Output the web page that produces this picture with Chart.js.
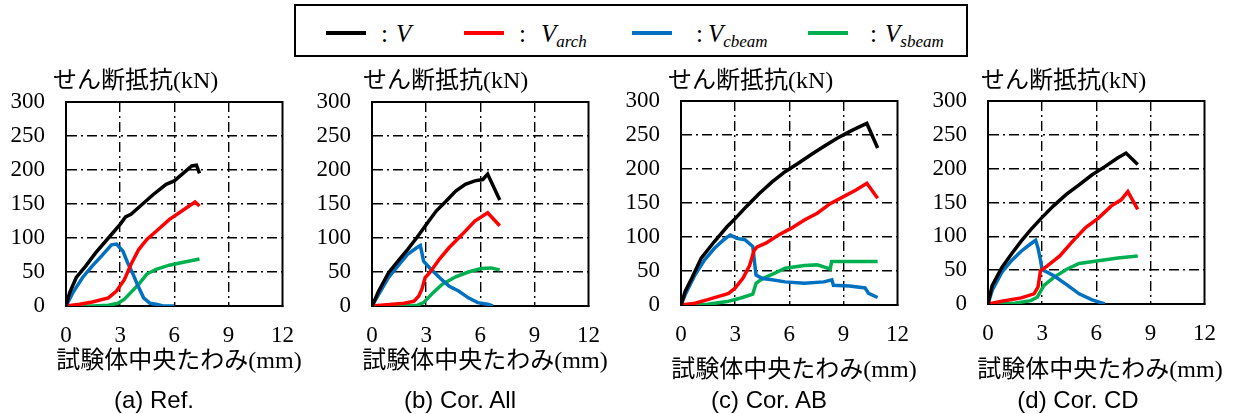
<!DOCTYPE html>
<html>
<head>
<meta charset="utf-8">
<script src="https://cdn.jsdelivr.net/npm/chart.js@4.4.0/dist/chart.umd.min.js"></script>
<style>
  body { margin: 0; background: #fff; width: 1236px; height: 414px; position: relative; overflow: hidden; }
  .panel { position: absolute; top: 60px; width: 310px; height: 354px; }
  .ytitle, .xtitle { position: absolute; font-size: 24px; line-height: 28px; white-space: nowrap;
            font-family: 'Liberation Serif', 'Noto Sans CJK JP'; color: #000; }
  .ytitle { top: 66px; }
  .xtitle { width: 300px; text-align: center; }
  .cap { position: absolute; top: 386px; width: 200px; text-align: center; font: 24px 'Liberation Sans'; line-height: 28px; color: #000; }
  #legend { position: absolute; left: 294px; top: 4px; width: 670px; height: 49px; border: 2px solid #000; box-sizing: content-box; }
  .lg-line { position: absolute; top: 25px; width: 40px; height: 4px; }
  .lg-txt { position: absolute; top: 15px; font: 25px 'Liberation Serif'; line-height: 25px; white-space: nowrap; }
  .lg-txt i sub { font-size: 17px; vertical-align: -5px; line-height: 0; }
</style>
</head>
<body>

<div id="legend">
  <div class="lg-line" style="left:30px;background:#000"></div>
  <span class="lg-txt" style="left:85px">:</span>
  <span class="lg-txt" style="left:100px"><i>V</i></span>

  <div class="lg-line" style="left:168px;background:#ff0000"></div>
  <span class="lg-txt" style="left:223px">:</span>
  <span class="lg-txt" style="left:245px"><i>V<sub>arch</sub></i></span>

  <div class="lg-line" style="left:336px;background:#0070c0"></div>
  <span class="lg-txt" style="left:400px">:</span>
  <span class="lg-txt" style="left:412px"><i>V<sub>cbeam</sub></i></span>

  <div class="lg-line" style="left:512px;background:#00b050"></div>
  <span class="lg-txt" style="left:574px">:</span>
  <span class="lg-txt" style="left:589px"><i>V<sub>sbeam</sub></i></span>
</div>

<div class="panel" style="left:0px"><canvas id="ca" width="310" height="354"></canvas></div>
<div class="panel" style="left:306px"><canvas id="cb" width="310" height="354"></canvas></div>
<div class="panel" style="left:615px"><canvas id="cc" width="310" height="354"></canvas></div>
<div class="panel" style="left:922px"><canvas id="cd" width="310" height="354"></canvas></div>

<div class="ytitle" style="left:53px">せん断抵抗(kN)</div>
<div class="ytitle" style="left:363px">せん断抵抗(kN)</div>
<div class="ytitle" style="left:668px">せん断抵抗(kN)</div>
<div class="ytitle" style="left:981px">せん断抵抗(kN)</div>

<div class="xtitle" style="left:29px;top:346px">試験体中央たわみ(mm)</div>
<div class="xtitle" style="left:335px;top:346px">試験体中央たわみ(mm)</div>
<div class="xtitle" style="left:644px;top:355px">試験体中央たわみ(mm)</div>
<div class="xtitle" style="left:950px;top:355px">試験体中央たわみ(mm)</div>

<div class="cap" style="left:54px">(a) Ref.</div>
<div class="cap" style="left:360px">(b) Cor. All</div>
<div class="cap" style="left:669px">(c) Cor. AB</div>
<div class="cap" style="left:978px">(d) Cor. CD</div>

<script>
// 軸
const xTicks = [0, 3, 6, 9, 12];
const yTicks = [0, 50, 100, 150, 200, 250, 300];
const seriesColors = ['#000000', '#ff0000', '#0070c0', '#00b050'];  // V, Varch, Vcbeam, Vsbeam

// (a) Ref.
const aV_x = [0, 0.1, 0.21, 0.57, 1.1, 1.64, 2.35, 3.0, 3.3, 3.6, 4.12, 4.84, 5.55, 6.0, 6.44, 6.97, 7.23, 7.4];
const aV_y = [0, 10, 20, 42, 59, 78, 100, 120, 131, 135, 147, 164, 179, 184, 194, 206, 207, 195];
const aArch_x = [0, 0.75, 1.46, 2.35, 2.8, 3.24, 3.6, 4.03, 4.48, 5.0, 5.72, 6.44, 7.15, 7.4];
const aArch_y = [0, 2.5, 6, 12, 22, 39, 61, 83, 98, 110, 127, 140, 153, 147];
const aCb_x = [0, 0.39, 0.92, 1.46, 1.99, 2.52, 2.8, 3.15, 3.41, 3.68, 3.95, 4.3, 4.66, 5.0, 5.37, 6.0];
const aCb_y = [0, 20, 42, 59, 74, 90, 91, 81, 64, 49, 32, 12, 4, 2.5, 0, 0];
const aSb_x = [0, 1.46, 2.35, 2.88, 3.24, 3.6, 4.03, 4.48, 5.0, 5.72, 6.44, 7.4];
const aSb_y = [0, 0, 1, 4, 10, 20, 32, 47, 54, 60, 64, 69];

// (b) Cor. All
const bV_x = [0, 0.37, 0.92, 1.44, 1.97, 2.5, 3.04, 3.57, 4.1, 4.64, 5.17, 5.7, 6.14, 6.41, 7.08];
const bV_y = [0, 22, 49, 66, 83, 101, 121, 140, 154, 169, 179, 184, 186, 194, 156];
const bArch_x = [0, 1.79, 2.33, 2.6, 2.77, 2.95, 3.2, 3.74, 4.28, 4.99, 5.7, 6.41, 7.08];
const bArch_y = [0, 4, 7, 15, 25, 42, 49, 69, 86, 105, 125, 137, 118];
const bCb_x = [0, 0.37, 0.92, 1.44, 1.97, 2.5, 2.68, 2.86, 3.2, 3.74, 4.28, 4.8, 5.34, 5.86, 6.41, 6.7];
const bCb_y = [0, 17, 42, 59, 76, 86, 89, 66, 56, 42, 29, 22, 12, 5, 2.5, 0];
const bSb_x = [0, 2.5, 2.86, 3.4, 3.9, 4.64, 5.34, 6.05, 6.6, 7.08];
const bSb_y = [0, 1, 5, 20, 32, 43, 50, 55, 56, 53];

// (c) Cor. AB
const cV_x = [0, 0.23, 0.59, 1.12, 1.84, 2.55, 3.0, 3.63, 4.34, 5.05, 5.77, 6.48, 7.2, 7.91, 8.63, 9.34, 9.88, 10.3, 10.9];
const cV_y = [0, 20, 39, 69, 93, 115, 127, 145, 164, 181, 196, 208, 221, 233, 245, 255, 262, 267, 231];
const cArch_x = [0, 0.77, 1.48, 2.0, 2.64, 3.0, 3.45, 3.8, 4.05, 4.2, 4.7, 5.41, 6.12, 6.84, 7.55, 8.27, 8.98, 9.7, 10.3, 10.9];
const cArch_y = [0, 2.5, 8, 12, 17, 25, 40, 58, 80, 85, 91, 103, 113, 125, 135, 149, 159, 169, 179, 157];
const cCb_x = [0, 0.23, 0.77, 1.3, 1.84, 2.37, 2.73, 3.09, 3.54, 3.98, 4.07, 4.16, 4.52, 5.05, 5.77, 6.84, 7.91, 8.36, 8.45, 9.34, 10.2, 10.4, 10.9];
const cCb_y = [0, 15, 44, 66, 83, 96, 103, 98, 96, 86, 64, 44, 39, 37, 34, 32, 34, 37, 29, 28, 25, 17, 11];
const cSb_x = [0, 1.48, 2.55, 3.27, 3.98, 4.16, 4.52, 5.05, 5.77, 6.84, 7.55, 8.27, 8.35, 10.9];
const cSb_y = [0, 1, 5, 10, 16, 32, 39, 45, 54, 58, 59, 53, 64, 64];

// (d) Cor. CD
const dV_x = [0, 0.23, 0.77, 1.3, 1.84, 2.37, 3.0, 3.63, 4.34, 5.05, 5.77, 6.48, 7.2, 7.65, 8.3];
const dV_y = [0, 27, 54, 74, 93, 110, 128, 145, 162, 176, 191, 203, 216, 223, 206];
const dArch_x = [0, 0.77, 1.84, 2.55, 2.77, 2.91, 3.27, 3.98, 4.7, 5.41, 6.12, 6.84, 7.38, 7.75, 8.3];
const dArch_y = [0, 4, 9, 15, 25, 49, 56, 71, 93, 113, 127, 145, 154, 166, 140];
const dCb_x = [0, 0.23, 0.77, 1.3, 1.84, 2.37, 2.64, 2.77, 2.88, 3.0, 3.63, 4.34, 5.05, 5.77, 6.48];
const dCb_y = [0, 20, 47, 64, 78, 89, 94, 83, 69, 51, 42, 29, 15, 6, 0];
const dSb_x = [0, 1.48, 2.37, 2.73, 3.09, 3.63, 4.34, 5.05, 6.12, 7.2, 8.3];
const dSb_y = [0, 1, 5, 10, 27, 39, 51, 60, 64, 68, 71];

Chart.defaults.font.family = "'Liberation Serif', serif";

function pts(xs, ys) {
  return xs.map(function (x, i) { return { x: x, y: ys[i] }; });
}

// 枠線
const framePlugin = {
  id: 'frame',
  beforeDatasetsDraw: function (chart) {
    const a = chart.chartArea, ctx = chart.ctx;
    ctx.save();
    ctx.strokeStyle = '#000';
    ctx.lineWidth = 2;
    ctx.strokeRect(a.left, a.top, a.right - a.left, a.bottom - a.top);
    ctx.restore();
  }
};

function makeChart(id, series, top, bottom) {
  const tickFont = { family: "'Liberation Serif', serif", size: 23 };
  new Chart(document.getElementById(id), {
    type: 'line',
    data: {
      datasets: series.map(function (s, i) {
        return {
          data: pts(s[0], s[1]),
          borderColor: seriesColors[i],
          borderWidth: 3.5,
          pointRadius: 0,
          tension: 0,
          fill: false
        };
      })
    },
    options: {
      responsive: false,
      animation: false,
      events: [],
      layout: { padding: { left: 0, top: top, right: 18, bottom: 0 } },
      plugins: { legend: { display: false }, tooltip: { enabled: false } },
      scales: {
        x: {
          type: 'linear',
          min: 0, max: 12,
          afterBuildTicks: function (s) { s.ticks = xTicks.map(function (v) { return { value: v }; }); },
          afterFit: function (s) { s.height = 354 - bottom; },
          ticks: { font: tickFont, color: '#000', padding: 16, maxRotation: 0 },
          grid: {
            drawTicks: false,
            lineWidth: 1.4,
            color: function (c) { return (c.tick && (c.tick.value === 0 || c.tick.value === 12)) ? 'rgba(0,0,0,0)' : '#000'; }
          },
          border: { display: true, color: '#000', width: 2, dash: [10, 4, 2, 4] }
        },
        y: {
          min: 0, max: 300,
          afterBuildTicks: function (s) { s.ticks = yTicks.map(function (v) { return { value: v }; }); },
          afterFit: function (s) { s.width = 66; },
          ticks: { font: tickFont, color: '#000', padding: 21 },
          grid: {
            drawTicks: false,
            lineWidth: 1.4,
            color: function (c) { return (c.tick && (c.tick.value === 0 || c.tick.value === 300)) ? 'rgba(0,0,0,0)' : '#000'; }
          },
          border: { display: true, color: '#000', width: 2, dash: [10, 4, 2, 4] }
        }
      }
    },
    plugins: [framePlugin]
  });
}

makeChart('ca', [[aV_x, aV_y], [aArch_x, aArch_y], [aCb_x, aCb_y], [aSb_x, aSb_y]], 42, 246);
makeChart('cb', [[bV_x, bV_y], [bArch_x, bArch_y], [bCb_x, bCb_y], [bSb_x, bSb_y]], 42, 246);
makeChart('cc', [[cV_x, cV_y], [cArch_x, cArch_y], [cCb_x, cCb_y], [cSb_x, cSb_y]], 41, 245);
makeChart('cd', [[dV_x, dV_y], [dArch_x, dArch_y], [dCb_x, dCb_y], [dSb_x, dSb_y]], 41, 244);
</script>
</body>
</html>
